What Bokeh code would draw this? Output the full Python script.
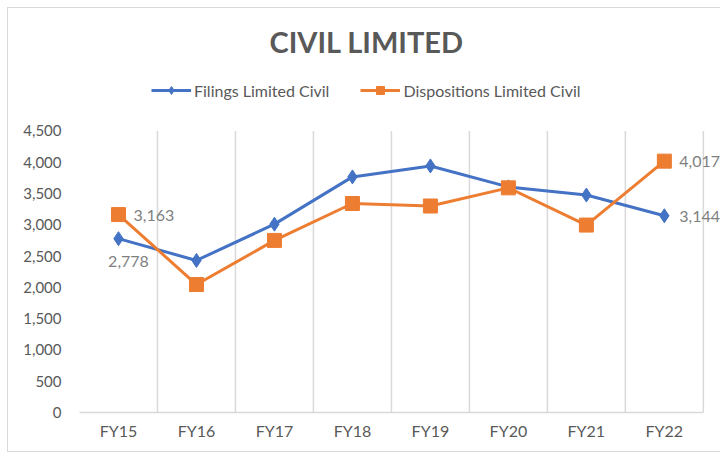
from bokeh.plotting import figure
from bokeh.models import (Range1d, FixedTicker, ColumnDataSource, LabelSet, Legend,
                          LegendItem)
from bokeh.core.properties import value
from bokeh.embed import file_html
from bokeh.resources import INLINE

categories = ["FY15", "FY16", "FY17", "FY18", "FY19", "FY20", "FY21", "FY22"]
filings = [2778, 2430, 3010, 3765, 3940, 3605, 3475, 3144]
dispositions = [3163, 2045, 2750, 3340, 3300, 3590, 2995, 4017]
y_ticks = [0, 500, 1000, 1500, 2000, 2500, 3000, 3500, 4000, 4500]

FONT = "Lato"
BLUE = "#4472C4"
ORANGE = "#ED7D31"
GREY = "#595959"
LGREY = "#d9d9d9"

n = len(categories)
xs = [i + 0.5 for i in range(n)]
y_top = y_ticks[-1]
# frame spans y=60..412 px; axis scale 0..4500 occupies 412..132 px, extra room for legend
y_end = y_top * (412 - 60) / (412 - 132)

p = figure(width=720, height=454, output_backend="svg", toolbar_location=None,
           x_range=Range1d(0, n + 0.22), y_range=Range1d(0, y_end),
           min_border_left=79, min_border_right=0, min_border_bottom=42, min_border_top=58)
p.outline_line_color = None
p.border_fill_alpha = 0
p.styles = {
    "background-image": "linear-gradient(#d9d9d9,#d9d9d9), linear-gradient(#d9d9d9,#d9d9d9), linear-gradient(#d9d9d9,#d9d9d9)",
    "background-position": "7px 7px, 7px 7px, 7px 451px",
    "background-size": "1px 445px, 713px 1px, 713px 1px",
    "background-repeat": "no-repeat",
}

p.title.text = "CIVIL LIMITED"
p.title.text_font = FONT
p.title.text_font_size = "29px"
p.title.text_font_style = "bold"
p.title.text_color = GREY
p.title.align = "left"
p.title.offset = 190
p.title.standoff = 0

# axes
p.xaxis.ticker = FixedTicker(ticks=xs)
p.xaxis.major_label_overrides = {x: c for x, c in zip(xs, categories)}
p.xaxis.bounds = (0, n)
p.xaxis.major_tick_line_color = None
p.xaxis.minor_tick_line_color = None
p.xaxis.axis_line_color = LGREY
p.xaxis.axis_line_width = 1.5
p.xaxis.major_label_text_font = FONT
p.xaxis.major_label_text_font_size = "16px"
p.xaxis.major_label_text_color = GREY
p.xaxis.major_label_standoff = 2

p.yaxis.ticker = FixedTicker(ticks=y_ticks)
p.yaxis.major_label_overrides = {t: f"{t:,}" for t in y_ticks}
p.yaxis.major_tick_line_color = None
p.yaxis.minor_tick_line_color = None
p.yaxis.axis_line_color = None
p.yaxis.major_label_text_font = FONT
p.yaxis.major_label_text_font_size = "15px"
p.yaxis.major_label_text_color = GREY
p.yaxis.major_label_standoff = 12

# vertical separators between categories, from 0 up to the top tick
p.grid.visible = False
bounds_x = list(range(1, n + 1))
p.segment(x0=bounds_x, y0=[0] * n, x1=bounds_x, y1=[y_top] * n,
          line_color=LGREY, line_width=1.5)

src = ColumnDataSource(dict(x=xs, f=filings, d=dispositions))

lf = p.line("x", "f", source=src, line_color=BLUE, line_width=3)
mf = p.scatter("x", "f", source=src, marker="diamond", size=14, fill_color=BLUE, line_color=BLUE)
ld = p.line("x", "d", source=src, line_color=ORANGE, line_width=3)
md = p.scatter("x", "d", source=src, marker="square", size=14, fill_color=ORANGE, line_color=ORANGE)

# data labels at first and last points
first, last = 0, n - 1
lab = ColumnDataSource(dict(
    x=[xs[first], xs[first], xs[last], xs[last]],
    y=[dispositions[first], filings[first], dispositions[last], filings[last]],
    t=[f"{dispositions[first]:,}", f"{filings[first]:,}", f"{dispositions[last]:,}", f"{filings[last]:,}"],
    xo=[15, 10, 15, 15],
    yo=[-1, -23, 0, -1],
    al=["left", "center", "left", "left"],
))
labels = LabelSet(x="x", y="y", text="t", source=lab, x_offset="xo", y_offset="yo",
                  text_align="al", text_baseline="middle", text_font_size="16px",
                  text_color="#7f7f7f", text_font=value(FONT))
p.add_layout(labels)

legend = Legend(items=[LegendItem(label="Filings Limited Civil", renderers=[lf, mf]),
                       LegendItem(label="Dispositions Limited Civil", renderers=[ld, md])],
                orientation="horizontal", location=(72, 312),
                label_text_font=FONT, label_text_font_size="16px", label_text_color=GREY,
                border_line_color=None, background_fill_alpha=0, glyph_width=40, spacing=31,
                padding=5, margin=0, label_standoff=3)
p.add_layout(legend, "center")

open("out.html", "w").write(file_html(p, INLINE))
